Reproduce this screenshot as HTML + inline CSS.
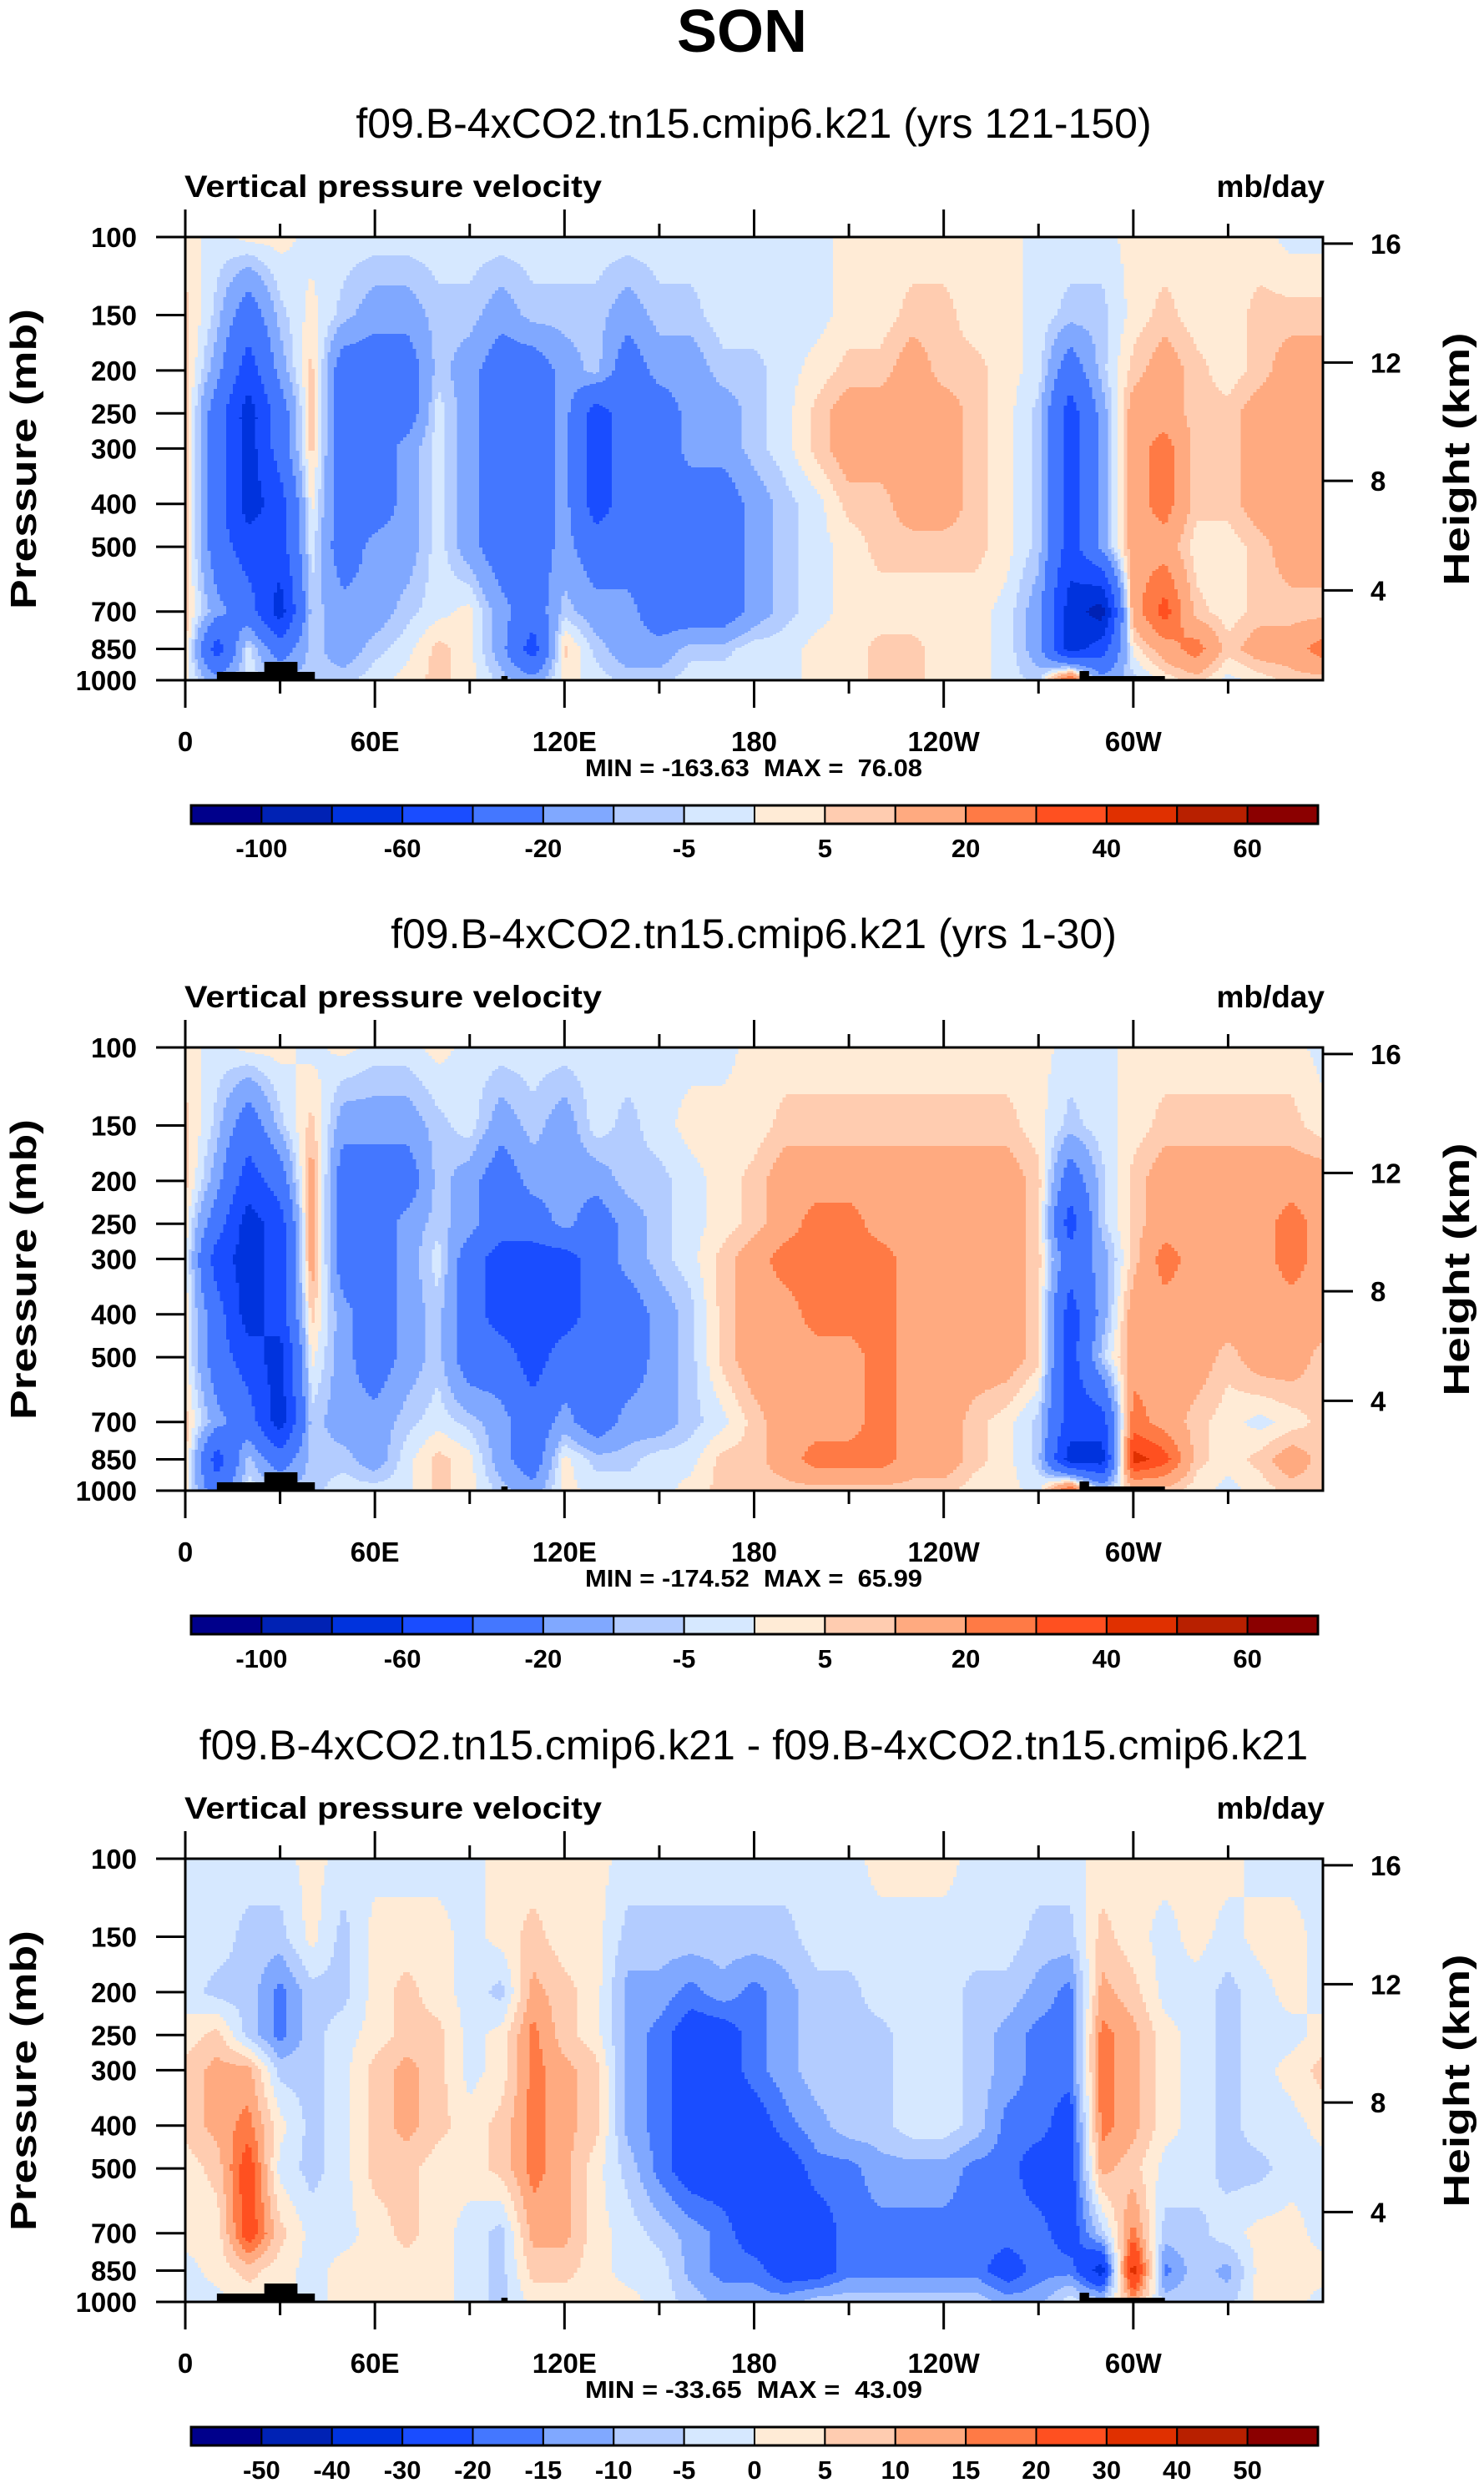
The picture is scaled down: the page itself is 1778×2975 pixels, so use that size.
<!DOCTYPE html>
<html><head><meta charset="utf-8">
<style>
html,body{margin:0;padding:0;background:#fff;}
svg{display:block;}
text{font-family:"Liberation Sans",Arial,sans-serif;}
.pre{white-space:pre;}
</style></head>
<body>
<svg id="root" xmlns="http://www.w3.org/2000/svg" width="1778" height="2975" viewBox="0 0 1778 2975">
<rect x="0" y="0" width="1778" height="2975" fill="#fff"/>
<text x="889" y="62" text-anchor="middle" font-size="72" font-weight="bold">SON</text>
</svg>
<script>
// ---- data ----
const lons = [0,10,20,30,40,50,60,70,80,90,100,110,120,130,140,150,160,170,180,190,200,210,220,230,240,250,260,270,280,290,300,310,320,330,340,350,360];
const levels = [100,150,200,250,300,400,500,700,850,1000];
const xTickLabels = ["0","60E","120E","180","120W","60W"];
const xTickLons = [0,60,120,180,240,300];
const yTickLabels = ["100","150","200","250","300","400","500","700","850","1000"];
const heightLabels = ["16","12","8","4"];
const heightPres = [103.5,192,355,627];
const contourLevelsAbs = [-100,-80,-60,-40,-20,-10,-5,0,5,10,20,30,40,50,60];
const contourLevelsDiff = [-50,-40,-30,-20,-15,-10,-5,0,5,10,15,20,30,40,50];
const palette = ['#00008b','#0022b4','#0033dd','#1a4dff','#4477ff','#80a8ff','#b3ccff','#d6e8ff','#ffebd6','#ffccb0','#ffaa80','#ff7a45','#ff5020','#e03000','#b82000','#8b0000'];
const titles = ["f09.B-4xCO2.tn15.cmip6.k21 (yrs 121-150)","f09.B-4xCO2.tn15.cmip6.k21 (yrs 1-30)","f09.B-4xCO2.tn15.cmip6.k21 - f09.B-4xCO2.tn15.cmip6.k21"];
const minMax = ["MIN = -163.63  MAX =  76.08","MIN = -174.52  MAX =  65.99","MIN = -33.65  MAX =  43.09"];

const omega1 = [
[2,-2,2,2,-2,-2,-2,-2,-2,-2,-2,-2,-2,-2,-2,-2,-2,-2,-2,-2,-2,2,2,2,2,2,2,-2,-2,-2,2,2,2,2,2,-2,-2],
[7,-7,-30,-7,2,-7,-15,-15,-7,-7,-15,-7,-7,-7,-15,-7,-7,-2,-2,-2,-2,2,2,7,7,2,2,-2,-7,-7,2,7,2,2,7,7,7],
[7,-15,-50,-15,7,-30,-30,-30,-7,-15,-30,-30,-15,-7,-30,-15,-15,-7,-7,-2,2,7,7,15,7,7,2,-2,-30,-7,7,15,7,2,7,15,15],
[7,-30,-70,-30,7,-30,-30,-30,-2,-15,-30,-30,-15,-50,-30,-30,-15,-15,-7,-2,7,15,15,15,15,7,2,-7,-50,-15,15,15,7,7,15,15,15],
[7,-30,-70,-30,7,-30,-30,-15,-2,-15,-30,-30,-15,-50,-30,-30,-15,-15,-7,-2,7,15,15,15,15,7,2,-7,-50,-15,15,25,7,7,15,15,15],
[7,-30,-70,-50,2,-30,-30,-15,-2,-15,-30,-30,-15,-50,-30,-30,-30,-30,-15,-7,-2,7,7,15,15,7,2,-7,-50,-15,15,25,7,7,15,15,15],
[7,-30,-50,-50,-2,-30,-15,-15,-2,-15,-30,-30,-15,-30,-30,-30,-30,-30,-15,-7,-2,2,7,7,7,7,2,-7,-50,-15,15,15,2,2,7,15,15],
[7,-15,-30,-70,-7,-15,-15,-7,-2,2,-15,-30,-7,-15,-15,-30,-30,-30,-15,-7,-2,2,2,2,2,2,-2,-15,-70,-90,15,35,7,2,7,7,7],
[7,-50,-2,-30,-7,-15,-7,-2,7,2,-15,-50,7,-7,-15,-15,-7,-7,-2,-2,2,2,7,7,2,2,-2,-15,-70,-50,2,15,25,7,15,15,25],
[2,-15,-2,-7,-7,-7,-2,2,7,2,-7,-15,2,-2,-7,-7,-2,-2,-2,-2,2,2,7,7,2,2,-2,-7,35,-15,-7,2,7,-2,2,7,7]
];
const omega2 = [
[2,-2,2,2,-2,2,-2,-2,2,-2,-2,-2,-2,-2,-2,-2,-2,-2,2,2,2,2,2,2,2,2,2,2,-2,-2,2,2,2,2,2,2,-2],
[7,-7,-30,-7,7,-15,-15,-15,-7,-2,-15,-7,-15,-2,-7,-2,2,2,2,7,7,7,7,7,7,7,7,2,-7,-2,2,7,7,7,7,7,2],
[7,-15,-50,-30,15,-30,-30,-30,-7,-15,-30,-15,-15,-15,-7,-7,-2,2,7,15,15,15,15,15,15,15,15,7,-30,-7,7,15,15,15,15,15,15],
[2,-30,-70,-50,15,-30,-30,-15,-7,-15,-30,-30,-15,-30,-15,-7,-2,2,7,15,25,25,15,15,15,15,15,7,-50,-7,7,15,15,15,15,25,15],
[2,-50,-70,-50,15,-30,-30,-15,-2,-30,-50,-50,-50,-30,-15,-7,-2,7,15,25,25,25,25,15,15,15,15,7,-30,-15,7,25,15,15,15,25,15],
[2,-30,-70,-50,7,-15,-30,-15,-7,-30,-50,-50,-50,-30,-30,-15,-7,7,15,15,25,25,25,15,15,15,15,7,-50,-15,15,15,15,15,15,15,15],
[2,-30,-50,-70,2,-15,-30,-15,-7,-30,-30,-50,-30,-30,-30,-15,-7,7,15,15,15,15,25,15,15,15,15,7,-50,-7,15,15,15,7,15,15,7],
[7,-15,-30,-70,-7,-15,-15,-7,-2,-7,-15,-30,-15,-30,-15,-15,-7,-2,7,15,15,15,25,15,15,7,2,-7,-50,-50,25,15,7,2,-2,2,7],
[7,-50,-7,-30,-7,-7,-15,-2,7,2,-15,-30,2,-7,-7,-2,-2,7,7,15,25,25,25,15,15,7,2,-7,-70,-70,45,35,7,2,7,15,7],
[2,-30,-2,-7,-7,-2,-2,-2,7,2,-7,-15,2,-2,-2,-2,2,7,7,7,7,7,7,7,7,2,2,-2,35,-7,7,7,2,-2,2,7,7]
];
const omegaDiff = [
[-2,-2,-2,-2,2,-2,-2,-2,-2,-2,2,2,2,2,-2,-2,-2,-2,-2,-2,-2,-2,2,2,2,-2,-2,-2,-2,2,2,2,2,2,-2,-2,-2],
[-2,-2,-7,-7,2,-7,2,2,2,-2,2,7,2,2,-7,-7,-7,-7,-7,-7,-2,-2,-2,-2,-2,-2,-2,-7,-7,7,2,-2,2,-2,2,2,-2],
[-2,-7,-7,-17,-7,-7,2,7,2,-2,-7,12,7,2,-12,-12,-17,-12,-17,-12,-7,-7,-2,-2,-2,-7,-7,-12,-17,12,7,-2,-2,-7,-2,2,-2],
[2,7,-7,-17,-7,-2,2,7,7,-2,2,17,7,2,-12,-17,-25,-25,-17,-12,-7,-7,-7,-2,-2,-7,-12,-17,-17,17,12,2,-2,-7,-2,-2,2],
[7,12,12,-7,-7,-2,7,12,7,-2,2,17,12,7,-12,-17,-25,-25,-17,-12,-7,-7,-7,-2,-2,-7,-12,-17,-17,17,12,2,-2,-7,-2,2,7],
[7,12,17,2,-7,-2,7,12,7,2,7,17,12,7,-12,-17,-25,-25,-25,-17,-12,-7,-7,-2,-2,-7,-17,-17,-25,17,12,2,-2,-7,-2,-2,2],
[2,7,25,-2,-7,-2,7,7,2,2,7,17,12,2,-7,-17,-25,-25,-25,-25,-17,-17,-12,-12,-12,-17,-17,-25,-25,12,7,-2,-2,-7,-7,-2,-2],
[2,2,25,7,-2,-2,2,7,2,-2,-7,12,12,2,-2,-7,-12,-17,-25,-25,-25,-17,-17,-17,-17,-17,-17,-17,-25,-7,17,-7,-7,-2,2,2,-2],
[-2,2,7,2,-2,2,2,2,2,-2,-7,7,7,2,-2,-2,-12,-17,-17,-25,-25,-17,-17,-17,-17,-17,-25,-17,-17,-35,35,-17,-7,-12,2,2,2],
[-2,-2,2,2,-2,2,2,2,2,-2,-7,2,2,2,2,-2,-7,-12,-12,-12,-7,-7,-7,-7,-7,-7,-12,-12,-2,-7,12,-7,-7,-7,2,2,-2]
];
const panelFields = [omega1, omega2, omegaDiff];
const cbLabelsAbs = ["-100","-60","-20","-5","5","20","40","60"];
const cbLabelIdxAbs = [1,3,5,7,9,11,13,15];
const cbLabelsDiff = ["-50","-40","-30","-20","-15","-10","-5","0","5","10","15","20","30","40","50"];
const topoLonStart = [10, 25, 100, 283, 283];
const topoLonEnd = [41, 35.5, 102, 310, 286];
const topoPx = [10, 22, 5, 5, 11];

// ---- layout ----
const NS = "http://www.w3.org/2000/svg";
const svg = document.getElementById('root');
const X0 = 222, X1 = 1585, PT = 284, PB = 815;
const offsets = [0, 971, 1943];
function xScale(lon){ return X0 + (X1 - X0) * lon / 360; }
function yScale(p, off){ return off + PT + (PB - PT) * Math.log10(p / 100); }
function mk(tag, attrs, parent){
  const e = document.createElementNS(NS, tag);
  for (const k in attrs) e.setAttribute(k, attrs[k]);
  (parent || svg).appendChild(e);
  return e;
}
function colorIndex(v, lev){ let i = 0; while (i < lev.length && v >= lev[i]) i++; return i; }
function sampleField(F, lon, p){
  const lp = Math.log(p);
  let r = 0; while (r < levels.length - 2 && Math.log(levels[r+1]) < lp) r++;
  const l0 = Math.log(levels[r]), l1 = Math.log(levels[r+1]);
  const ty = Math.min(1, Math.max(0, (lp - l0) / (l1 - l0)));
  let c = 0; while (c < lons.length - 2 && lons[c+1] < lon) c++;
  const tx = Math.min(1, Math.max(0, (lon - lons[c]) / (lons[c+1] - lons[c])));
  const a = F[r][c]*(1-tx) + F[r][c+1]*tx;
  const b = F[r+1][c]*(1-tx) + F[r+1][c+1]*tx;
  return a*(1-ty) + b*ty;
}

panelFields.forEach((F, k) => {
  const off = offsets[k];
  const lev = k === 2 ? contourLevelsDiff : contourLevelsAbs;
  const g = mk('g', {});
  
  

  const t = mk('text', {x: 903, y: off + 165, 'text-anchor': 'middle', 'font-size': 50}, g);
  t.textContent = titles[k];
  
  
  const lt = mk('text', {x: 221, y: off + 236, 'font-size': 37, 'font-weight': 'bold', textLength: 500, lengthAdjust: 'spacingAndGlyphs'}, g);
  lt.textContent = 'Vertical pressure velocity';
  
  
  const ut = mk('text', {x: 1587, y: off + 236, 'font-size': 37, 'font-weight': 'bold', 'text-anchor': 'end'}, g);
  ut.textContent = 'mb/day';
  
  

  const fg = mk('g', {'shape-rendering': 'crispEdges'}, g);
  
  
  const step = 2;
  const ncol = 360;
  for (let y = off + PT; y < off + PB; y += step) {
    const frac = (y + step/2 - off - PT) / (PB - PT);
    const p = 100 * Math.pow(10, frac);
    let runStart = 0, runIdx = colorIndex(sampleField(F, 0.5, p), lev);
    for (let c = 1; c <= ncol; c++) {
      const idx = c < ncol ? colorIndex(sampleField(F, c + 0.5, p), lev) : -1;
      if (idx !== runIdx) {
        const x0 = xScale(runStart), x1 = xScale(c);
        const r = mk('rect', {x: x0.toFixed(2), y: y, width: (x1 - x0 + 0.6).toFixed(2), height: step + 0.5, fill: palette[runIdx]}, fg);
        
        
        runStart = c; runIdx = idx;
      }
    }
  }
  for (let i = 0; i < topoLonStart.length; i++) {
    const x0 = xScale(topoLonStart[i]), x1 = xScale(topoLonEnd[i]);
    const r = mk('rect', {x: x0, y: off + PB - topoPx[i], width: x1 - x0, height: topoPx[i], fill: '#000'}, g);
    
    
  }
  const fr = mk('rect', {x: X0, y: off + PT, width: X1 - X0, height: PB - PT, fill: 'none', stroke: '#000', 'stroke-width': 3}, g);
  
  

  for (let lon = 0; lon < 360; lon += 30) {
    const major = lon % 60 === 0;
    const x = xScale(lon);
    const tl = major ? 33 : 16;
    const a = mk('line', {x1: x, x2: x, y1: off + PT, y2: off + PT - tl, stroke: '#000', 'stroke-width': 3}, g);
    
    
    const b = mk('line', {x1: x, x2: x, y1: off + PB, y2: off + PB + tl, stroke: '#000', 'stroke-width': 3}, g);
    
    
  }
  xTickLabels.forEach((s, i) => {
    const tx = mk('text', {x: xScale(xTickLons[i]), y: off + 900, 'text-anchor': 'middle', 'font-size': 33, 'font-weight': 'bold'}, g);
    tx.textContent = s;
    
    
  });
  yTickLabels.forEach((s, i) => {
    const y = yScale(levels[i], off);
    const ln = mk('line', {x1: 187, x2: X0, y1: y, y2: y, stroke: '#000', 'stroke-width': 3}, g);
    
    
    const tx = mk('text', {x: 164, y: y + 12, 'text-anchor': 'end', 'font-size': 33, 'font-weight': 'bold'}, g);
    tx.textContent = s;
    
    
  });
  heightLabels.forEach((s, i) => {
    const y = yScale(heightPres[i], off);
    const ln = mk('line', {x1: X1, x2: 1621, y1: y, y2: y, stroke: '#000', 'stroke-width': 3}, g);
    
    
    const tx = mk('text', {x: 1642, y: y + 12, 'font-size': 33, 'font-weight': 'bold'}, g);
    tx.textContent = s;
    
    
  });
  const yt = mk('text', {x: 0, y: 0, transform: 'translate(43,' + (off + 550) + ') rotate(-90)', 'text-anchor': 'middle', 'font-size': 44, 'font-weight': 'bold', textLength: 360, lengthAdjust: 'spacingAndGlyphs'}, g);
  yt.textContent = 'Pressure (mb)';
  
  
  const ht = mk('text', {x: 0, y: 0, transform: 'translate(1760,' + (off + 550) + ') rotate(-90)', 'text-anchor': 'middle', 'font-size': 44, 'font-weight': 'bold', textLength: 303, lengthAdjust: 'spacingAndGlyphs'}, g);
  ht.textContent = 'Height (km)';
  
  
  const mm = mk('text', {x: 903, y: off + 930, 'text-anchor': 'middle', 'font-size': 29, 'font-weight': 'bold', 'class': 'pre', textLength: 404, lengthAdjust: 'spacingAndGlyphs'}, g);
  mm.textContent = minMax[k];
  
  

  const CB0 = 229, CB1 = 1579, CBT = off + 965, CBH = 22;
  const bw = (CB1 - CB0) / 16;
  const cb = mk('g', {}, g);
  
  
  palette.forEach((c, i) => {
    const r = mk('rect', {x: CB0 + i*bw, y: CBT, width: bw, height: CBH, fill: c, stroke: '#000', 'stroke-width': 2}, cb);
    
    
  });
  const cbf = mk('rect', {x: CB0, y: CBT, width: CB1 - CB0, height: CBH, fill: 'none', stroke: '#000', 'stroke-width': 3}, cb);
  
  
  const labs = k === 2 ? cbLabelsDiff : cbLabelsAbs;
  const idxs = k === 2 ? cbLabelsDiff.map((_, i) => i + 1) : cbLabelIdxAbs;
  labs.forEach((s, i) => {
    const tx = mk('text', {x: CB0 + idxs[i]*bw, y: off + 1027, 'text-anchor': 'middle', 'font-size': 31, 'font-weight': 'bold'}, cb);
    tx.textContent = s;
    
    
  });
});
</script>
</body></html>
